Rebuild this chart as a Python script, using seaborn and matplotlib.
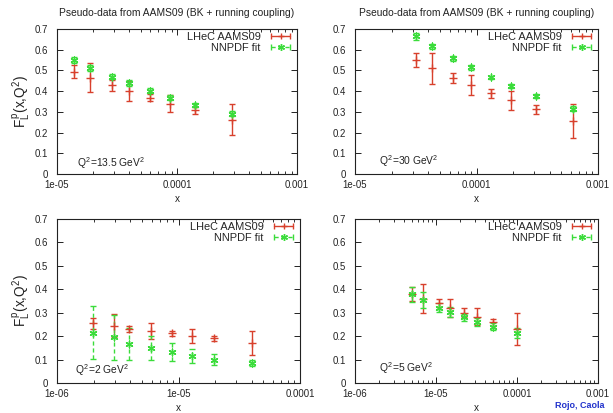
import numpy as np
import pandas as pd
import matplotlib
matplotlib.use("Agg")
import matplotlib.pyplot as plt
import seaborn as sns
from matplotlib.lines import Line2D
from matplotlib.legend_handler import HandlerLine2D, HandlerTuple
from matplotlib.ticker import FuncFormatter, LogLocator, MultipleLocator, NullFormatter

sns.set_style("ticks")
plt.rcParams['font.family'] = ['Liberation Sans', 'DejaVu Sans']
plt.rcParams['mathtext.fontset'] = 'custom'
plt.rcParams['mathtext.rm'] = 'Liberation Sans'
plt.rcParams['mathtext.it'] = 'Liberation Sans'
plt.rcParams['mathtext.bf'] = 'Liberation Sans:bold'

TITLE = "Pseudo-data from AAMS09 (BK + running coupling)"
LABEL_LHEC = "LHeC AAMS09"
LABEL_NNPDF = "NNPDF fit"

# ---- Panel 1: Q2 = 13.5 GeV2
x_q13 = [1.39e-5, 1.87e-5, 2.89e-5, 4.0e-5, 6.0e-5, 8.75e-5, 1.41e-4, 2.86e-4]
lhec_q13 = [0.494, 0.465, 0.428, 0.400, 0.368, 0.340, 0.308, 0.263]
lhec_q13_err = [0.032, 0.070, 0.025, 0.050, 0.017, 0.042, 0.017, 0.075]
nn_q13 = [0.550, 0.512, 0.470, 0.440, 0.402, 0.368, 0.335, 0.290]
nn_q13_err = [0.016, 0.015, 0.013, 0.013, 0.012, 0.012, 0.010, 0.012]

# ---- Panel 2: Q2 = 30 GeV2
x_q30 = [3.16e-5, 4.33e-5, 6.37e-5, 8.96e-5, 1.32e-4, 1.91e-4, 3.07e-4, 6.2e-4]
lhec_q30 = [0.550, 0.510, 0.463, 0.429, 0.389, 0.355, 0.312, 0.255]
lhec_q30_err = [0.035, 0.075, 0.026, 0.048, 0.020, 0.045, 0.021, 0.083]
nn_q30 = [0.664, 0.616, 0.558, 0.516, 0.467, 0.424, 0.377, 0.316]
nn_q30_err = [0.015, 0.014, 0.012, 0.012, 0.008, 0.010, 0.008, 0.014]

# ---- Panel 3: Q2 = 2 GeV2
x_q2 = [1.97e-6, 2.97e-6, 3.9e-6, 5.93e-6, 8.8e-6, 1.28e-5, 1.97e-5, 4.06e-5]
lhec_q2 = [0.254, 0.245, 0.231, 0.222, 0.212, 0.202, 0.190, 0.170]
lhec_q2_err = [0.024, 0.048, 0.014, 0.033, 0.010, 0.030, 0.011, 0.050]
nn_q2 = [0.215, 0.195, 0.167, 0.150, 0.133, 0.116, 0.100, 0.086]
nn_q2_err = [0.112, 0.095, 0.067, 0.050, 0.037, 0.029, 0.024, 0.014]

# ---- Panel 4: Q2 = 5 GeV2
x_q5 = [5.0e-6, 6.95e-6, 1.09e-5, 1.51e-5, 2.21e-5, 3.22e-5, 5.07e-5, 1.01e-4]
lhec_q5 = [0.380, 0.360, 0.341, 0.320, 0.300, 0.283, 0.260, 0.230]
lhec_q5_err = [0.030, 0.063, 0.018, 0.040, 0.020, 0.036, 0.015, 0.068]
nn_q5 = [0.378, 0.354, 0.322, 0.303, 0.281, 0.261, 0.241, 0.213]
nn_q5_err = [0.031, 0.035, 0.020, 0.020, 0.015, 0.017, 0.015, 0.020]

panels = [
    dict(x=x_q13, l=lhec_q13, le=lhec_q13_err, n=nn_q13, ne=nn_q13_err,
         q="$Q^2$=13.5 GeV$^2$", xlim=(1e-5, 1e-3), title=True, ylab=True,
         rect=(57, 297, 29, 174), qpos=(0.083, 0.075)),
    dict(x=x_q30, l=lhec_q30, le=lhec_q30_err, n=nn_q30, ne=nn_q30_err,
         q="$Q^2$=30 GeV$^2$", xlim=(1e-5, 1e-3), title=True, ylab=False,
         rect=(355, 598, 29, 174), qpos=(0.098, 0.09)),
    dict(x=x_q2, l=lhec_q2, le=lhec_q2_err, n=nn_q2, ne=nn_q2_err,
         q="$Q^2$=2 GeV$^2$", xlim=(1e-6, 1e-4), title=False, ylab=True,
         rect=(57, 300, 219, 383), qpos=(0.074, 0.08)),
    dict(x=x_q5, l=lhec_q5, le=lhec_q5_err, n=nn_q5, ne=nn_q5_err,
         q="$Q^2$=5 GeV$^2$", xlim=(1e-6, 1e-3), title=False, ylab=False,
         rect=(355, 598, 219, 383), qpos=(0.10, 0.09)),
]

RED = '#d8402c'
GREEN = '#3bdc3b'
W, H = 613, 413
fig = plt.figure(figsize=(W / 100, H / 100), dpi=100)

for p in panels:
    l, r, t, b = p['rect']
    ax = fig.add_axes([l / W, 1 - b / H, (r - l) / W, (b - t) / H])
    ax.set_xscale('log')
    df_l = pd.DataFrame({'x': p['x'], 'y': p['l']})
    df_n = pd.DataFrame({'x': p['x'], 'y': p['n']})
    # LHeC error bars
    ax.errorbar(p['x'], p['l'], yerr=p['le'], fmt='none', ecolor=RED,
                elinewidth=1.0, capsize=2.2, capthick=1.0, zorder=2)
    # NNPDF error bars (dashed)
    cont = ax.errorbar(p['x'], p['n'], yerr=p['ne'], fmt='none', ecolor=GREEN,
                       elinewidth=1.0, capsize=2.2, capthick=1.0, zorder=3)
    for lc in cont[2]:
        lc.set_linestyle((0, (3, 2)))
    sns.scatterplot(data=df_l, x='x', y='y', ax=ax, marker='+', color=RED,
                    s=28, linewidth=1.0, legend=False, zorder=4)
    sns.scatterplot(data=df_n, x='x', y='y', ax=ax, marker=(6, 2, 0), color=GREEN,
                    s=24, linewidth=1.0, legend=False, zorder=5)

    ax.set_xlim(*p['xlim'])
    ax.set_ylim(0, 0.7)
    ax.yaxis.set_major_locator(MultipleLocator(0.1))
    ax.yaxis.set_major_formatter(FuncFormatter(lambda v, pos: "%g" % round(v, 3)))
    ax.xaxis.set_major_locator(LogLocator(base=10, numticks=10))
    ax.xaxis.set_minor_locator(LogLocator(base=10, subs=np.arange(2, 10), numticks=20))
    ax.xaxis.set_major_formatter(FuncFormatter(lambda v, pos: "%g" % v))
    ax.xaxis.set_minor_formatter(NullFormatter())
    ax.tick_params(which='both', direction='in', top=True, right=True,
                   color='#333333', width=0.7)
    ax.tick_params(which='major', length=4, labelsize=6.9, colors='#222222')
    ax.tick_params(which='minor', length=2.2)
    ax.tick_params(axis='y', pad=6.5)
    ax.tick_params(axis='x', pad=4.0)
    for sp in ax.spines.values():
        sp.set_linewidth(0.8)
        sp.set_color('#222222')
        sp.set_visible(True)

    ax.set_xlabel('x', fontsize=7.2, labelpad=3.5, color='#222222')
    if p['ylab']:
        ax.set_ylabel(r'F$_\mathregular{L}^{\,\mathregular{p}}$(x,Q$^2$)', fontsize=9.8,
                      labelpad=1.5, color='#222222')
    else:
        ax.set_ylabel('')
    if p['title']:
        ax.set_title(TITLE, fontsize=7.4, pad=9, color='#222222')
    ax.text(p['qpos'][0], p['qpos'][1], p['q'], transform=ax.transAxes,
            fontsize=7.4, ha='left', va='center', color='#222222')

    # legend
    h_l_line = Line2D([], [], color=RED, lw=1.0, marker='|', markersize=4.5,
                      markeredgewidth=1.0)
    h_l_mark = Line2D([], [], color=RED, lw=0, marker='+', markersize=5,
                      markeredgewidth=1.0)
    h_n_line = Line2D([], [], color=GREEN, lw=1.0, ls=(0, (3, 2)), marker='|',
                      markersize=4.5, markeredgewidth=1.0)
    h_n_mark = Line2D([], [], color=GREEN, lw=0, marker=(6, 2, 0), markersize=5,
                      markeredgewidth=1.0)
    hmap = {h_l_line: HandlerLine2D(numpoints=2), h_n_line: HandlerLine2D(numpoints=2),
            h_l_mark: HandlerLine2D(numpoints=1), h_n_mark: HandlerLine2D(numpoints=1),
            tuple: HandlerTuple(ndivide=1, pad=0)}
    ax.legend([(h_l_line, h_l_mark), (h_n_line, h_n_mark)], [LABEL_LHEC, LABEL_NNPDF],
              handler_map=hmap, loc='upper right', frameon=False, markerfirst=False,
              fontsize=7.9, handlelength=2.4, handletextpad=0.6, labelspacing=0.05,
              borderaxespad=0.1, borderpad=0.2)

fig.text(580 / W, 1 - 405 / H, "Rojo, Caola", color='#2233cc', fontsize=6.5,
         fontweight='bold', ha='center', va='center')

fig.savefig('out.png', dpi=100)
